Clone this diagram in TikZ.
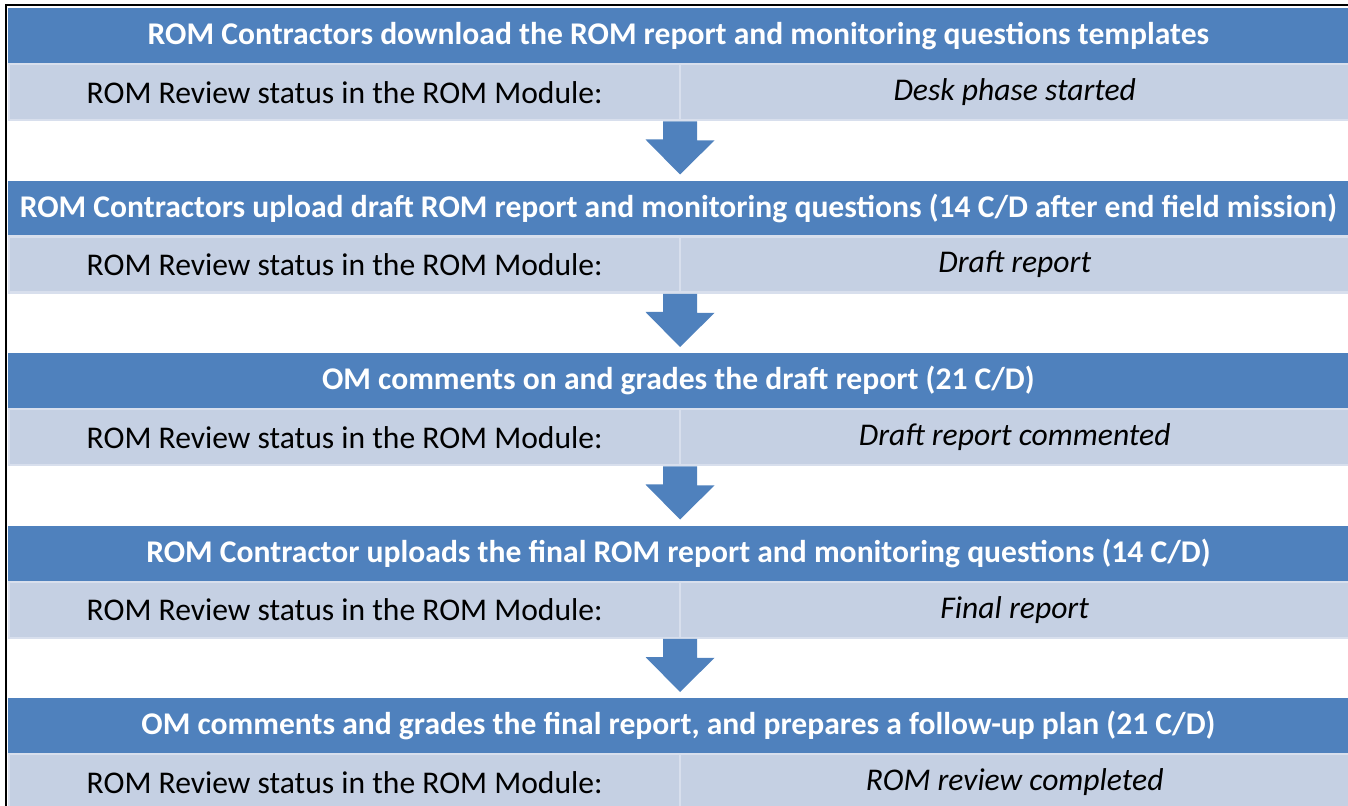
\documentclass[tikz,border=0pt]{standalone}
\usepackage{fontspec}
\setmainfont{Carlito}
\usepackage{tikz}
\usetikzlibrary{calc}
\definecolor{bandblue}{RGB}{79,129,189}
\definecolor{bandlight}{RGB}{197,208,227}
\definecolor{celledge}{RGB}{216,223,237}
\tikzstyle{stepbar} = [rectangle, fill=bandblue, text=white, anchor=north west, inner sep=0pt, minimum width=670pt, minimum height=27.5pt, font=\bfseries\fontsize{15.8}{18}\selectfont]
\tikzstyle{labelcell} = [rectangle, fill=bandlight, draw=celledge, line width=1.2pt, anchor=north west, inner sep=0pt, minimum width=335.5pt, minimum height=28pt, font=\fontsize{15.8}{18}\selectfont]
\tikzstyle{statuscell} = [labelcell, minimum width=334.5pt, font=\itshape\fontsize{15.8}{18}\selectfont]
\tikzstyle{flowarrow} = [fill=bandblue]
\tikzstyle{frame} = [draw, line width=1pt, black]

\begin{document}
\begin{tikzpicture}[x=0.5pt, y=-0.5pt]
\useasboundingbox (0, 0) rectangle (1348, 806);

% frame
\coordinate (fbl) at (6, 806);
\coordinate (ftl) at (6, 5);
\coordinate (ftr) at (1348, 5);
\draw [frame] (fbl) -- (ftl) -- (ftr);

% step 1
\node [stepbar] at (8, 8) (step1) {ROM Contractors download the ROM report and monitoring questions templates};
\node [labelcell] at (8, 63) (lab1) {ROM Review status in the ROM Module:};
\node [statuscell] at (679, 63) (stat1) {Desk phase started};

% step 2
\node [stepbar] at (8, 180.5) (step2) {ROM Contractors upload draft ROM report and monitoring questions (14 C/D after end field mission)};
\node [labelcell] at (8, 235.5) (lab2) {ROM Review status in the ROM Module:};
\node [statuscell] at (679, 235.5) (stat2) {Draft report};

% step 3
\node [stepbar] at (8, 353) (step3) {OM comments on and grades the draft report (21 C/D)};
\node [labelcell] at (8, 408) (lab3) {ROM Review status in the ROM Module:};
\node [statuscell] at (679, 408) (stat3) {Draft report commented};

% step 4
\node [stepbar] at (8, 525.5) (step4) {ROM Contractor uploads the final ROM report and monitoring questions (14 C/D)};
\node [labelcell] at (8, 580.5) (lab4) {ROM Review status in the ROM Module:};
\node [statuscell] at (679, 580.5) (stat4) {Final report};

% step 5
\node [stepbar] at (8, 698) (step5) {OM comments and grades the final report, and prepares a follow-up plan (21 C/D)};
\node [labelcell] at (8, 753) (lab5) {ROM Review status in the ROM Module:};
\node [statuscell] at (679, 753) (stat5) {ROM review completed};

% arrows
\path [flowarrow] ($(stat1.south west)+(-16,0)$) -- ++(34,0) -- ++(0,19) -- ++(17.5,0) -- ($(step2.north -| stat1.south west)+(1,-6)$) -- ++(-34.5,-35) -- ++(17.5,0) -- cycle;
\path [flowarrow] ($(stat2.south west)+(-16,0)$) -- ++(34,0) -- ++(0,19) -- ++(17.5,0) -- ($(step3.north -| stat2.south west)+(1,-6)$) -- ++(-34.5,-35) -- ++(17.5,0) -- cycle;
\path [flowarrow] ($(stat3.south west)+(-16,0)$) -- ++(34,0) -- ++(0,19) -- ++(17.5,0) -- ($(step4.north -| stat3.south west)+(1,-6)$) -- ++(-34.5,-35) -- ++(17.5,0) -- cycle;
\path [flowarrow] ($(stat4.south west)+(-16,0)$) -- ++(34,0) -- ++(0,19) -- ++(17.5,0) -- ($(step5.north -| stat4.south west)+(1,-6)$) -- ++(-34.5,-35) -- ++(17.5,0) -- cycle;

\end{tikzpicture}
\end{document}
